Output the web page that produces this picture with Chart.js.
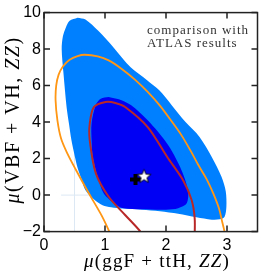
<!DOCTYPE html>
<html>
<head>
<meta charset="utf-8">
<script src="https://cdn.jsdelivr.net/npm/chart.js@4.4.1/dist/chart.umd.min.js"></script>
<style>
  html, body { margin: 0; padding: 0; background: #fff; }
</style>
</head>
<body>
<canvas id="chart" width="267" height="272"></canvas>
<script>
// ---- data ----
const xTicks = [0, 1, 2, 3];
const xTickLabels = ["0", "1", "2", "3"];
const yTicks = [-2, 0, 2, 4, 6, 8, 10];
const yTickLabels = ["\u22122", "0", "2", "4", "6", "8", "10"];

// light blue region (outer)
const outerX = [0.55, 0.68, 0.89, 1.15, 1.42, 1.69, 1.89, 2.1, 2.32, 2.55, 2.75, 2.91, 2.98, 2.99, 2.96, 2.88, 2.75, 2.5, 2.2, 1.9, 1.6, 1.3, 1.1, 0.96, 0.84, 0.68, 0.62, 0.55, 0.5, 0.45, 0.41, 0.37, 0.32, 0.29, 0.31, 0.36, 0.42, 0.55];
const outerY = [9.72, 9.62, 9.0, 8.05, 7.0, 6.3, 5.74, 4.9, 4.0, 3.19, 2.09, 1.0, 0.2, -0.64, -1.19, -1.33, -1.35, -1.22, -1.02, -0.88, -0.8, -0.74, -0.66, -0.55, -0.3, 0.27, 0.82, 1.5, 2.2, 3.0, 3.9, 4.83, 6.65, 8.0, 8.7, 9.2, 9.55, 9.72];

// dark blue region (inner)
const innerX = [1.06, 1.28, 1.43, 1.70, 2.02, 2.23, 2.36, 2.34, 2.2, 2.0, 1.6, 1.3, 1.17, 0.98, 0.88, 0.80, 0.78, 0.78, 0.85, 0.93, 1.06];
const innerY = [5.37, 5.19, 4.92, 4.1, 2.82, 1.55, 0.27, -0.45, -0.72, -0.8, -0.78, -0.72, -0.5, 0.09, 1.0, 2.09, 3.0, 3.95, 4.95, 5.28, 5.37];

// orange contour
const orangeX = [1.1, 1.07, 0.95, 0.73, 0.52, 0.38, 0.28, 0.22, 0.19, 0.2, 0.24, 0.31, 0.42, 0.55, 0.67, 0.88, 1.06, 1.28, 1.5, 1.7, 1.9, 2.08, 2.25, 2.4, 2.53, 2.67, 2.78, 2.87, 2.92, 2.96, 2.98];
const orangeY = [-2.3, -2.0, -1.15, 0.13, 1.40, 2.3, 3.1, 4.1, 5.19, 6.0, 6.6, 7.05, 7.42, 7.62, 7.69, 7.6, 7.38, 6.9, 6.3, 5.65, 4.9, 4.1, 3.3, 2.45, 1.65, 0.85, 0.05, -0.75, -1.45, -2.0, -2.3];

// red contour
const redX = [1.62, 1.58, 1.33, 1.06, 0.85, 0.75, 0.75, 0.82, 1.01, 1.17, 1.33, 1.70, 2.02, 2.28, 2.42, 2.47, 2.47];
const redY = [-2.3, -2.0, -1.09, -0.09, 1.19, 3.0, 3.92, 4.83, 5.1, 5.05, 4.83, 3.73, 2.09, 0.82, -0.27, -1.26, -2.3];

// faint reference lines
const refVX = [0.5, 0.5];
const refVY = [-2, 2.5];
const refHX = [0.28, 1.5];
const refHY = [0, 0];

// best fit points
const crossPoint = [{ x: 1.50, y: 0.86 }];
const starPoint = [{ x: 1.64, y: 1.04 }];

const noteLines = ["comparison with", "ATLAS results"];
const xTitle = [["\u03bc", true], ["(ggF + ttH, ", false], ["ZZ", true], [")", false]];
const yTitle = [["\u03bc", true], ["(VBF + VH, ", false], ["ZZ", true], [")", false]];

const toPts = (xs, ys) => xs.map((x, i) => ({ x, y: ys[i] }));

// five-point star used as point style
const starImg = document.createElement("canvas");
starImg.width = 17;
starImg.height = 17;
const sctx = starImg.getContext("2d");
sctx.beginPath();
for (let i = 0; i < 10; i++) {
  const r = i % 2 ? 3.1 : 7.2;
  const a = -Math.PI / 2 + i * Math.PI / 5;
  sctx.lineTo(8.5 + r * Math.cos(a), 9 + r * Math.sin(a));
}
sctx.closePath();
sctx.fillStyle = "#fff";
sctx.fill();
sctx.strokeStyle = "#000";
sctx.lineWidth = 0.9;
sctx.stroke();

const serif = "'Liberation Serif', 'Times New Roman', serif";

const drawMixed = (ctx, parts, size, spacing) => {
  let total = 0;
  const widths = parts.map(([t, it]) => {
    ctx.font = (it ? "italic " : "") + size + "px " + serif;
    ctx.letterSpacing = spacing + "px";
    const w = ctx.measureText(t).width;
    total += w;
    return w;
  });
  let cx = -total / 2;
  parts.forEach(([t, it], i) => {
    ctx.font = (it ? "italic " : "") + size + "px " + serif;
    ctx.letterSpacing = spacing + "px";
    ctx.fillText(t, cx, 0);
    cx += widths[i];
  });
};

const framePlugin = {
  id: "frame",
  afterDraw(chart) {
    const { ctx, chartArea: a, scales: { x, y } } = chart;
    ctx.save();
    ctx.strokeStyle = "#222";
    ctx.lineWidth = 1.5;
    ctx.strokeRect(a.left, a.top, a.right - a.left, a.bottom - a.top);

    // ticks pointing inward on all four sides
    ctx.beginPath();
    xTicks.forEach(v => {
      const px = x.getPixelForValue(v);
      ctx.moveTo(px, a.bottom); ctx.lineTo(px, a.bottom - 6);
      ctx.moveTo(px, a.top); ctx.lineTo(px, a.top + 6);
    });
    yTicks.forEach(v => {
      const py = y.getPixelForValue(v);
      ctx.moveTo(a.left, py); ctx.lineTo(a.left + 6, py);
      ctx.moveTo(a.right, py); ctx.lineTo(a.right - 6, py);
    });
    ctx.stroke();

    // note in the corner
    ctx.fillStyle = "#333";
    ctx.textAlign = "left";
    ctx.textBaseline = "alphabetic";
    ctx.font = "13px " + serif;
    ctx.letterSpacing = "1px";
    ctx.fillText(noteLines[0], 147, 34);
    ctx.fillText(noteLines[1], 147, 47);

    // axis titles
    ctx.fillStyle = "#000";
    ctx.save();
    ctx.translate(157, 267);
    drawMixed(ctx, xTitle, 19, 1.2);
    ctx.restore();

    ctx.save();
    ctx.translate(19, 120);
    ctx.rotate(-Math.PI / 2);
    drawMixed(ctx, yTitle, 20, 1.5);
    ctx.restore();

    ctx.restore();
  }
};

const tickFont = { family: "'Liberation Sans', Arial, sans-serif", size: 16 };

new Chart(document.getElementById("chart"), {
  type: "scatter",
  data: {
    datasets: [
      {
        data: starPoint,
        pointStyle: starImg,
        pointRadius: 8,
        order: 0
      },
      {
        data: crossPoint,
        pointStyle: "cross",
        pointRadius: 5.5,
        borderColor: "#000",
        borderWidth: 4,
        order: 1
      },
      {
        data: toPts(redX, redY),
        showLine: true,
        borderColor: "rgb(185, 40, 40)",
        borderWidth: 2,
        pointRadius: 0,
        tension: 0.3,
        clip: 0,
        order: 2
      },
      {
        data: toPts(orangeX, orangeY),
        showLine: true,
        borderColor: "rgb(255, 150, 20)",
        borderWidth: 1.8,
        pointRadius: 0,
        tension: 0.3,
        clip: 0,
        order: 3
      },
      {
        data: toPts(innerX, innerY),
        showLine: true,
        borderWidth: 0,
        borderColor: "rgb(0, 0, 245)",
        backgroundColor: "rgb(0, 0, 245)",
        fill: "shape",
        pointRadius: 0,
        tension: 0.3,
        clip: 0,
        order: 4
      },
      {
        data: toPts(outerX, outerY),
        showLine: true,
        borderWidth: 0,
        borderColor: "rgb(0, 128, 255)",
        backgroundColor: "rgb(0, 128, 255)",
        fill: "shape",
        pointRadius: 0,
        tension: 0.3,
        clip: 0,
        order: 5
      },
      {
        data: toPts(refVX, refVY),
        showLine: true,
        borderColor: "rgb(220, 232, 244)",
        borderWidth: 1,
        pointRadius: 0,
        order: 6
      },
      {
        data: toPts(refHX, refHY),
        showLine: true,
        borderColor: "rgb(220, 232, 244)",
        borderWidth: 1,
        pointRadius: 0,
        order: 7
      }
    ]
  },
  options: {
    responsive: false,
    animation: false,
    events: [],
    layout: { padding: { top: 12, right: 5, left: 0, bottom: 0 } },
    plugins: {
      legend: { display: false },
      tooltip: { enabled: false }
    },
    scales: {
      x: {
        type: "linear",
        min: 0,
        max: 3.5,
        afterBuildTicks: s => { s.ticks = xTicks.map(v => ({ value: v })); },
        afterFit: s => { s.height = 40.4; },
        grid: { display: false, drawTicks: false },
        border: { display: false },
        ticks: {
          font: tickFont,
          color: "#000",
          padding: 4,
          maxRotation: 0,
          autoSkip: false,
          callback: v => xTickLabels[xTicks.indexOf(v)]
        }
      },
      y: {
        type: "linear",
        min: -2,
        max: 10,
        afterBuildTicks: s => { s.ticks = yTicks.map(v => ({ value: v })); },
        afterFit: s => { s.width = 44; },
        grid: { display: false, drawTicks: false },
        border: { display: false },
        ticks: {
          font: tickFont,
          color: "#000",
          padding: 3,
          autoSkip: false,
          callback: v => yTickLabels[yTicks.indexOf(v)]
        }
      }
    }
  },
  plugins: [framePlugin]
});
</script>
</body>
</html>
